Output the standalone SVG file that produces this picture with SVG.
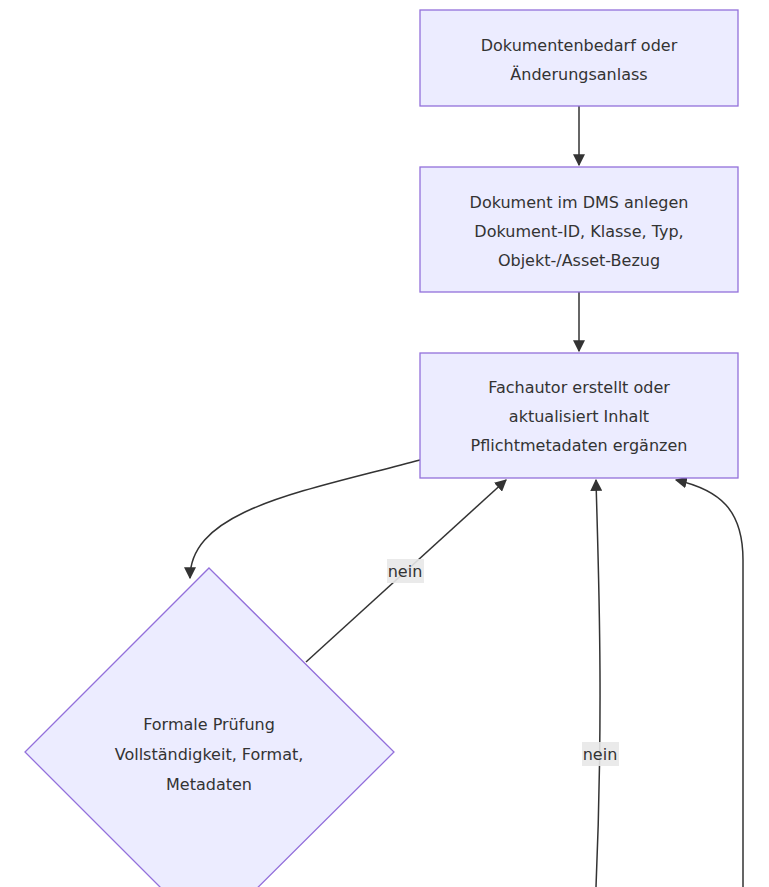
<svg xmlns="http://www.w3.org/2000/svg" width="769" height="887" viewBox="0 0 769 887">
<style>
.n{fill:#ECECFF;stroke:#9370DB;stroke-width:1.3}
.t{font-family:"DejaVu Sans",sans-serif;font-size:16px;fill:#333;text-anchor:middle}
.e{fill:none;stroke:#333;stroke-width:1.5}
.lb{fill:#e8e8e8;opacity:0.9}
</style>
<defs><marker id="a" viewBox="0 0 10 10" refX="9" refY="5" markerWidth="8" markerHeight="8" orient="auto"><path d="M0,0L10,5L0,10z" fill="#333"/></marker></defs>
<rect width="769" height="887" fill="#fff"/>
<g id="edges">
<path class="e" d="M579,106V165" marker-end="url(#a)"/>
<path class="e" d="M579,292V351" marker-end="url(#a)"/>
<path class="e" d="M420,460C300,492 190,510 190,578" marker-end="url(#a)"/>
<path class="e" d="M306,662L506,480" marker-end="url(#a)"/>
<path class="e" d="M596,887C604,700 598,560 596,480" marker-end="url(#a)"/>
<path class="e" d="M743,887V560C743,510 720,490 676,480" marker-end="url(#a)"/>
<rect class="lb" x="387" y="559" width="37" height="24"/>
<text class="t" x="405" y="577">nein</text>
<rect class="lb" x="582" y="742" width="37" height="24"/>
<text class="t" x="600" y="760">nein</text>
</g>
<g id="n1"><rect class="n" x="420" y="10" width="318" height="96"/>
<text class="t" x="579" y="51">Dokumentenbedarf oder</text><text class="t" x="579" y="80">Änderungsanlass</text></g>
<g id="n2"><rect class="n" x="420" y="167" width="318" height="125"/>
<text class="t" x="579" y="208">Dokument im DMS anlegen</text><text class="t" x="579" y="237">Dokument-ID, Klasse, Typ,</text><text class="t" x="579" y="266">Objekt-/Asset-Bezug</text></g>
<g id="n3"><rect class="n" x="420" y="353" width="318" height="125"/>
<text class="t" x="579" y="393">Fachautor erstellt oder</text><text class="t" x="579" y="422">aktualisiert Inhalt</text><text class="t" x="579" y="451">Pflichtmetadaten ergänzen</text></g>
<g id="n4"><polygon class="n" points="209,568 394,752 209,936 25,752"/>
<text class="t" x="209" y="730">Formale Prüfung</text><text class="t" x="209" y="760">Vollständigkeit, Format,</text><text class="t" x="209" y="790">Metadaten</text></g>
</svg>
